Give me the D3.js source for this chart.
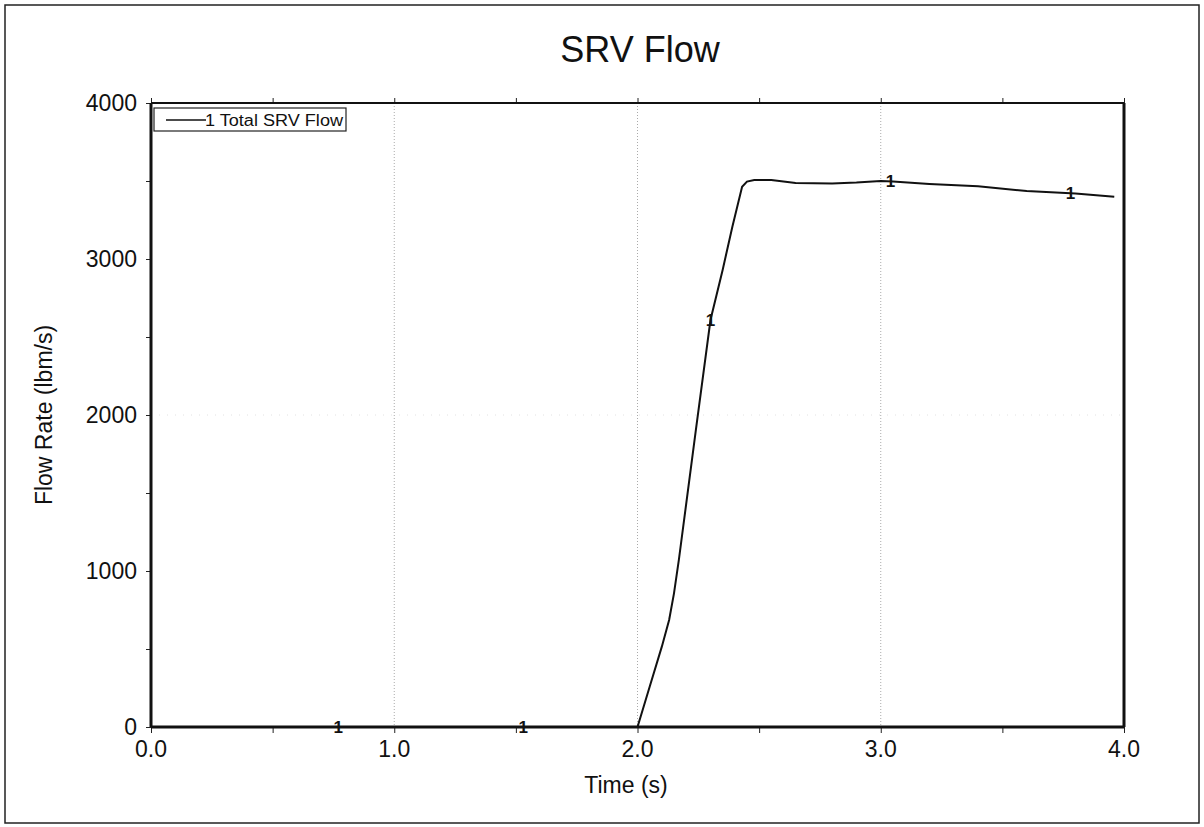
<!DOCTYPE html>
<html>
<head>
<meta charset="utf-8">
<script src="https://cdnjs.cloudflare.com/ajax/libs/d3/7.8.5/d3.min.js"></script>
<style>
  html, body { margin: 0; padding: 0; background: #fff; }
  svg { display: block; }
  text { font-family: "Liberation Sans", Arial, Helvetica, sans-serif; fill: #111; }
</style>
</head>
<body>
<svg id="chart" width="1204" height="827"></svg>
<script>
// Total SRV flow history
const timeS = [0, 2.0, 2.05, 2.1, 2.13, 2.15, 2.17, 2.24, 2.3, 2.35, 2.39, 2.43, 2.45, 2.48,
               2.55, 2.65, 2.8, 2.9, 3.0, 3.05, 3.2, 3.4, 3.6, 3.8, 3.96];
const flowLbm = [0, 0, 258, 515, 686, 857, 1071, 1904, 2609, 2930, 3207, 3463, 3496, 3506,
                 3506, 3487, 3484, 3490, 3500, 3497, 3481, 3466, 3436, 3420, 3399];
// Curve-identifier symbol positions along the trace
const markerTimes = [0.77, 1.53, 2.3, 3.04, 3.78];

const xTicks = [0, 1, 2, 3, 4];
const xTickLabels = ["0.0", "1.0", "2.0", "3.0", "4.0"];
const yTicks = [0, 1000, 2000, 3000, 4000];
const yTickLabels = ["0", "1000", "2000", "3000", "4000"];
const seriesName = "Total SRV Flow";

const svg = d3.select("#chart");
const m = { left: 151, right: 1124, top: 103, bottom: 727 };

// outer frame
svg.append("rect").attr("x", 5).attr("y", 5).attr("width", 1194).attr("height", 818)
  .attr("fill", "none").attr("stroke", "#222").attr("stroke-width", 1.5);

const x = d3.scaleLinear().domain([0, 4]).range([m.left, m.right]);
const y = d3.scaleLinear().domain([0, 4000]).range([m.bottom, m.top]);

// grid
const g = svg.append("g");
g.selectAll(".vg").data([1, 2, 3]).join("line")
  .attr("x1", d => x(d)).attr("x2", d => x(d))
  .attr("y1", m.top).attr("y2", m.bottom)
  .attr("stroke", "#aaa").attr("stroke-width", 1).attr("stroke-dasharray", "1,2");
g.selectAll(".hg").data([2000]).join("line")
  .attr("x1", m.left).attr("x2", m.right)
  .attr("y1", d => y(d)).attr("y2", d => y(d))
  .attr("stroke", "#e2e2e2").attr("stroke-width", 1).attr("stroke-dasharray", "1,7");

// axes
const minorX = d3.range(0, 4.01, 0.5);
const minorY = d3.range(0, 4001, 500);
svg.append("g").attr("transform", `translate(0,${m.bottom})`)
  .call(d3.axisBottom(x).tickValues(minorX).tickFormat("").tickSize(6).tickSizeOuter(0))
  .call(a => a.select(".domain").remove())
  .call(a => a.selectAll("line").attr("stroke", "#222"));
svg.append("g").attr("transform", `translate(0,${m.top})`)
  .call(d3.axisTop(x).tickValues(minorX).tickFormat("").tickSize(5).tickSizeOuter(0))
  .call(a => a.select(".domain").remove())
  .call(a => a.selectAll("line").attr("stroke", "#222"));
svg.append("g").attr("transform", `translate(${m.left},0)`)
  .call(d3.axisLeft(y).tickValues(minorY).tickFormat("").tickSize(5).tickSizeOuter(0))
  .call(a => a.select(".domain").remove())
  .call(a => a.selectAll("line").attr("stroke", "#222"));

// tick labels
svg.selectAll(".xl").data(xTicks).join("text")
  .attr("x", d => x(d)).attr("y", m.bottom + 30)
  .attr("text-anchor", "middle").attr("font-size", 23)
  .text((d, i) => xTickLabels[i]);
svg.selectAll(".yl").data(yTicks).join("text")
  .attr("x", m.left - 14).attr("y", d => y(d) + 8)
  .attr("text-anchor", "end").attr("font-size", 23)
  .text((d, i) => yTickLabels[i]);

// plot frame
svg.append("line").attr("x1", m.left).attr("x2", m.right).attr("y1", m.top).attr("y2", m.top)
  .attr("stroke", "#111").attr("stroke-width", 2);
svg.append("line").attr("x1", m.left).attr("x2", m.right).attr("y1", m.bottom).attr("y2", m.bottom)
  .attr("stroke", "#111").attr("stroke-width", 3);
svg.append("line").attr("x1", m.left).attr("x2", m.left).attr("y1", m.top).attr("y2", m.bottom)
  .attr("stroke", "#111").attr("stroke-width", 3);
svg.append("line").attr("x1", m.right).attr("x2", m.right).attr("y1", m.top).attr("y2", m.bottom)
  .attr("stroke", "#111").attr("stroke-width", 3);

// data trace
const pts = timeS.map((t, i) => [t, flowLbm[i]]);
svg.append("path").datum(pts)
  .attr("fill", "none").attr("stroke", "#111").attr("stroke-width", 2)
  .attr("d", d3.line().x(d => x(d[0])).y(d => y(d[1])));

// curve identifiers
const interp = t => {
  const i = d3.bisectRight(timeS, t) - 1;
  const j = Math.min(i + 1, timeS.length - 1);
  if (i === j) return flowLbm[i];
  const f = (t - timeS[i]) / (timeS[j] - timeS[i]);
  return flowLbm[i] + f * (flowLbm[j] - flowLbm[i]);
};
svg.selectAll(".mk").data(markerTimes).join("text")
  .attr("x", d => x(d)).attr("y", d => y(interp(d)) + 6)
  .attr("text-anchor", "middle").attr("font-size", 17).attr("font-weight", "bold")
  .text("1");

// legend
svg.append("rect").attr("x", 154).attr("y", 108).attr("width", 192).attr("height", 23)
  .attr("fill", "#fff").attr("stroke", "#222").attr("stroke-width", 1.2);
svg.append("line").attr("x1", 166).attr("x2", 206).attr("y1", 120).attr("y2", 120)
  .attr("stroke", "#111").attr("stroke-width", 1.5);
svg.append("text").attr("x", 205).attr("y", 126).attr("font-size", 16)
  .attr("textLength", 138).attr("lengthAdjust", "spacingAndGlyphs")
  .text("1 " + seriesName);

// titles
svg.append("text").attr("x", 640).attr("y", 62).attr("text-anchor", "middle")
  .attr("font-size", 36).text("SRV Flow");
svg.append("text").attr("x", 626).attr("y", 793).attr("text-anchor", "middle")
  .attr("font-size", 23).text("Time (s)");
svg.append("text").attr("transform", `translate(52,${(m.top + m.bottom) / 2}) rotate(-90)`)
  .attr("text-anchor", "middle").attr("font-size", 23).text("Flow Rate (lbm/s)");
</script>
</body>
</html>
